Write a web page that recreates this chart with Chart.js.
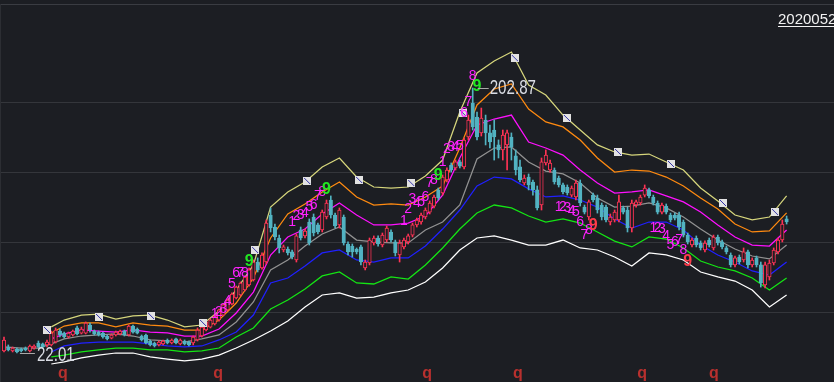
<!DOCTYPE html>
<html lang="zh-CN">
<head>
<meta charset="UTF-8">
<title>K线</title>
<script src="https://cdn.jsdelivr.net/npm/chart.js"></script>
<style>
    body { margin: 0; background: #1c1e23; overflow: hidden; }
    canvas { display: block; }
</style>
</head>
<body>
<canvas id="kline" width="834" height="382"></canvas>
<script>
// daily candles: [open, high, low, close]
const CANDLES = [
    [23.4,32.9,22.7,30.9],[26.1,27.5,23.4,24.1],[23.4,26.1,22.7,25.4],[24.7,25.4,22.01,22.7],[24.7,25.4,22.7,23.4],
    [25.4,26.1,23.4,24.1],[23.4,27.5,22.7,26.8],[25.4,27.5,24.7,26.8],[28.8,30.2,25.4,26.1],[28.2,28.8,25.4,26.1],
    [27.5,30.9,26.1,29.5],[27.5,37.0,26.8,35.6],[29.5,39.1,28.8,37.7],[37.0,38.4,32.9,34.3],[35.6,36.3,32.2,32.9],
    [32.9,36.3,32.2,35.6],[34.3,37.7,33.6,37.0],[39.1,40.4,34.3,35.0],[35.6,39.7,35.0,38.4],[35.6,43.2,35.0,42.5],
    [41.1,42.5,36.3,37.7],[37.0,37.7,34.3,35.0],[36.3,37.0,33.6,34.3],[35.6,36.3,32.2,32.9],[33.6,34.3,30.9,31.6],
    [32.2,35.0,31.6,34.3],[34.3,37.0,33.6,36.3],[35.0,37.7,34.3,37.0],[37.0,37.7,33.6,34.3],[34.3,41.1,33.6,40.4],
    [40.4,41.1,35.6,36.3],[38.4,39.1,35.0,35.6],[33.6,34.3,30.2,30.9],[34.3,35.0,28.2,28.8],[30.2,30.9,26.8,27.5],
    [28.8,29.5,26.1,26.8],[27.5,30.2,26.8,29.5],[28.2,30.9,27.5,30.2],[30.9,31.6,28.2,28.8],[28.8,31.6,28.2,30.9],
    [31.6,32.2,28.2,28.8],[28.2,31.6,27.5,30.9],[30.2,30.9,27.5,28.2],[29.5,30.2,26.8,27.5],[28.8,33.6,27.5,32.9],
    [30.9,39.1,30.2,37.7],[33.6,40.4,32.9,39.7],[37.7,43.8,37.0,43.2],[39.7,45.2,39.1,44.5],[41.8,47.9,41.1,47.3],
    [44.5,52.0,43.8,51.4],[47.9,55.5,47.3,54.8],[51.4,58.9,50.7,58.2],[55.5,63.0,54.8,62.3],[59.6,67.7,58.9,67.0],
    [61.6,70.5,60.9,69.8],[65.0,74.6,64.3,73.9],[68.4,80.0,67.7,78.7],[71.8,85.5,71.1,84.1],[84.1,86.9,77.3,78.7],
    [80.0,90.3,79.3,88.9],[84.1,112.8,82.8,110.7],[116.2,121.0,104.6,107.3],[108.0,110.0,99.1,101.2],[100.5,102.5,90.3,93.7],
    [92.3,95.7,91.0,94.4],[93.0,94.4,88.9,90.3],[91.0,92.3,86.2,87.5],[85.5,103.2,84.1,101.9],[106.0,108.0,99.1,100.5],
    [101.9,106.6,100.5,105.3],[111.4,113.5,95.7,97.1],[114.8,116.9,101.9,103.9],[109.4,110.7,103.2,104.6],[106.0,119.6,104.6,118.2],
    [114.8,126.4,113.5,124.4],[126.4,129.2,114.1,116.2],[116.2,117.5,107.3,108.7],[109.4,121.0,107.3,119.6],[114.8,116.2,95.7,97.1],
    [96.4,97.8,88.9,91.0],[95.0,96.4,87.5,91.0],[93.0,93.7,89.6,91.0],[94.4,95.7,82.1,84.1],[80.0,85.5,78.7,84.1],
    [83.4,100.5,82.1,99.1],[97.1,101.9,95.7,100.5],[100.5,101.9,95.0,96.4],[95.7,103.9,94.4,102.5],[99.1,108.7,97.8,107.3],
    [104.6,106.0,97.8,99.1],[97.8,99.1,88.2,90.3],[88.9,99.1,84.1,97.1],[94.4,100.5,93.0,99.1],[97.8,103.2,96.4,101.9],
    [102.5,110.7,101.2,109.4],[109.4,114.1,108.0,112.8],[111.4,117.5,110.0,116.2],[114.8,121.0,113.5,119.6],[118.2,125.8,116.9,124.4],
    [122.3,129.8,121.0,128.5],[133.3,134.6,126.4,127.8],[131.2,143.5,129.8,142.1],[140.1,148.3,138.7,146.9],[150.3,151.7,145.5,146.9],
    [148.3,153.7,146.9,152.4],[152.4,153.7,148.3,149.6],[149.0,168.7,147.6,167.4],[169.4,184.4,167.4,181.0],[192.6,202.87,174.2,176.3],
    [183.1,186.5,167.4,169.4],[172.2,189.2,170.1,182.4],[181.0,184.4,164.0,172.2],[172.2,177.6,161.9,166.0],[174.2,181.0,153.7,169.4],
    [164.0,167.4,155.1,160.6],[160.6,174.2,153.7,170.8],[164.0,174.2,146.9,172.2],[169.4,172.2,153.7,162.6],[156.5,160.6,143.5,146.9],
    [149.0,153.7,138.7,140.1],[138.0,143.5,136.7,141.4],[142.1,144.2,133.3,136.7],[138.7,140.1,129.8,133.3],[133.3,136.0,119.6,121.0],
    [123.0,155.1,119.6,152.4],[151.7,160.6,150.3,157.1],[146.9,153.7,145.5,151.7],[146.9,148.3,137.3,138.7],[141.4,142.8,135.3,136.7],
    [136.7,138.0,130.5,131.9],[135.3,136.7,129.8,131.2],[129.8,136.0,128.5,134.6],[128.5,140.1,126.4,138.0],[138.0,140.1,122.3,124.4],
    [121.6,123.0,116.9,118.2],[114.8,126.4,112.8,125.1],[129.8,131.2,125.1,126.4],[127.8,129.8,117.5,119.6],[123.0,124.4,112.8,114.8],
    [121.6,123.0,111.4,112.8],[111.4,116.9,109.4,114.8],[112.8,119.6,111.4,118.2],[112.8,129.8,111.4,125.1],[121.0,122.3,116.9,118.2],
    [119.6,121.6,104.6,107.3],[107.3,126.4,104.6,124.4],[123.0,126.4,121.6,125.1],[124.4,129.8,123.0,128.5],[129.8,136.7,128.5,134.6],
    [133.3,134.6,127.8,129.2],[128.5,129.8,123.0,124.4],[124.4,125.8,116.9,118.2],[118.2,124.4,116.9,123.0],[122.3,123.7,116.9,118.2],
    [116.2,117.5,111.4,112.8],[116.2,117.5,112.8,114.1],[116.2,118.2,106.0,108.0],[111.4,112.8,101.2,102.5],[102.5,103.9,96.4,97.8],
    [95.7,100.5,94.4,99.1],[100.5,101.9,94.4,95.7],[97.1,98.5,92.3,93.7],[92.3,98.5,91.0,97.1],[99.1,100.5,94.4,95.7],
    [93.7,102.5,92.3,101.2],[101.2,102.5,95.7,97.1],[97.8,99.1,93.0,94.4],[93.7,95.0,89.6,91.0],[88.9,90.3,80.7,82.1],
    [82.1,88.2,80.7,86.9],[87.5,88.9,82.8,84.1],[85.5,93.7,84.1,91.0],[91.0,92.3,80.0,82.1],[82.1,86.9,80.7,85.5],
    [86.9,88.2,80.7,82.1],[82.1,84.1,67.0,69.8],[68.4,84.1,66.4,82.1],[73.9,85.5,71.8,83.4],[83.4,93.7,82.1,92.3],
    [91.0,100.5,89.6,99.1],[99.1,112.8,97.8,110.0],[113.5,115.5,110.0,111.4]
];

// band lines are sampled on these candle indexes
const BAND_IDX = [11,14,18,22,26,30,34,38,42,46,50,54,58,62,66,70,74,78,82,86,90,94,98,102,106,110,114,118,122,126,130,134,138,142,146,150,154,158,162,166,170,174,178,182];
const YELLOW  = [39.8,44.5,47.9,48.6,45.2,47.3,47.9,44.5,39.8,41.1,50.7,65.0,82.1,121.6,131.9,138.7,149.0,155.1,142.1,135.3,134.6,135.3,142.8,153.7,186.5,213.1,221.3,227.4,204.9,198.1,184.4,174.2,164.0,159.2,157.1,157.8,152.4,146.9,134.6,125.8,116.2,112.8,114.8,129.2];
const ORANGE  = [35.7,40.4,42.5,42.5,39.8,42.5,41.1,40.4,37.7,37.7,44.5,56.1,73.2,100.5,116.9,123.7,131.9,138.7,128.5,123.0,123.7,123.0,128.5,136.0,161.9,191.3,202.2,205.6,188.5,179.7,176.3,167.4,155.1,145.5,146.9,146.2,142.1,136.0,127.8,120.3,110.0,104.6,105.3,117.6];
const MAGENTA = [31.6,35.0,37.7,37.0,36.3,37.7,36.3,35.7,33.6,33.6,38.4,49.3,63.6,88.9,101.2,106.6,116.9,124.4,116.2,109.4,109.4,110.7,115.5,129.8,155.1,177.6,181.7,184.4,166.0,161.9,157.1,146.9,138.0,131.2,131.9,133.3,129.2,125.1,118.2,109.4,101.2,95.7,95.0,106.0];
const BLUE    = [22.7,26.8,28.8,29.5,29.5,29.5,28.2,26.8,26.1,26.8,30.9,36.3,47.9,69.8,73.2,81.4,90.3,92.3,85.5,84.1,86.9,86.9,95.0,106.6,119.6,136.0,142.1,140.8,134.0,128.5,129.2,126.4,121.6,113.5,107.3,111.4,111.4,106.0,95.7,88.9,84.1,78.0,75.2,84.1];
const GREEN   = [19.3,20.6,22.7,24.1,25.4,25.4,24.1,24.1,22.7,23.4,25.4,32.9,39.1,52.0,58.2,65.7,74.6,77.3,69.8,69.1,73.9,72.5,82.1,93.7,106.6,117.6,123.0,121.0,115.5,111.4,113.5,110.7,104.6,98.4,94.4,101.2,99.8,93.7,84.8,80.7,78.0,73.2,65.0,73.2];
const WHITE   = [14.5,15.9,18.6,20.6,22.0,22.0,19.3,17.9,16.6,17.9,20.6,25.4,30.9,37.0,43.8,53.4,61.6,63.0,59.5,60.2,63.0,65.0,70.5,80.0,92.3,100.5,101.9,99.1,95.7,95.7,99.1,93.7,92.3,87.5,81.4,90.3,88.9,85.5,77.3,73.9,71.1,65.0,53.4,61.6];

// the middle average starts with the first candle
const GRAY_IDX = [0,4,8,11,14,18,22,26,30,34,38,42,46,50,54,58,62,66,70,74,78,82,86,90,94,98,102,106,110,114,118,122,126,130,134,138,142,146,150,154,158,162,166,170,174,178,182];
const GRAY = [26.1,25.4,25.4,28.2,31.6,33.6,34.3,35.0,33.6,30.9,30.2,29.5,31.6,34.3,43.2,56.8,78.7,85.5,95.0,103.2,108.0,99.1,97.8,97.1,97.1,106.0,111.4,123.0,154.4,161.9,162.6,152.4,146.2,144.2,138.0,127.8,121.6,122.3,124.4,121.0,114.8,106.6,99.1,93.0,88.2,86.2,95.7];

// square markers sitting on the top band
const MARK_IDX = [10.0,22.1,34.2,46.3,58.4,70.5,82.6,94.7,106.7,118.8,130.9,142.8,155.1,167.2,179.3];
const MARK_PRICE = [37.7,46.6,47.3,42.5,92.3,139.4,140.1,138.0,185.8,223.3,182.4,159.2,151.0,124.4,118.2];

// nine-count sequences: first candle index, price of each digit, direction
const TD_START = [49, 67, 93, 102, 129, 151];
const TD_DIR = ['up', 'up', 'up', 'up', 'down', 'down'];
const TD_PRICE = [
    [48.6, 50.0, 52.0, 57.5, 69.1, 76.6, 76.6, 76.6, 84.1],
    [111.4, 115.5, 116.2, 117.6, 121.6, 123.0, 129.2, 131.9, 133.3],
    [112.1, 120.3, 127.1, 124.4, 125.1, 128.5, 138.0, 140.1, 142.8],
    [152.4, 161.2, 162.6, 162.6, 163.3, 185.8, 193.3, 211.1, 203.5],
    [121.6, 121.6, 121.0, 118.9, 118.2, 111.4, 102.5, 106.0, 108.7],
    [107.3, 107.3, 106.6, 101.9, 95.7, 97.8, 99.1, 92.3, 84.1]
];

// "q" marks along the bottom
const Q_IDX = [13.7, 49.8, 98.4, 119.5, 148.4, 165.1];
const Q_PRICE = 5.0;

const GRID_PRICES = [260.2, 193.3, 145.5, 97.8, 50.0];
const DATE_LABEL = '20200522';

const BG = '#1c1e23';
const UP = '#ff3355';
const DOWN = '#52b3c2';

function markIcon() {
    const c = document.createElement('canvas');
    c.width = 8; c.height = 8;
    const g = c.getContext('2d');
    g.fillStyle = '#e2e2e2';
    g.fillRect(0, 0, 8, 8);
    g.strokeStyle = '#3434a8';
    g.lineWidth = 1;
    g.beginPath();
    g.moveTo(1, 1);
    g.lineTo(7, 7);
    g.stroke();
    return c;
}

function band(idx, values, color) {
    return {
        type: 'line',
        data: idx.map((x, k) => ({ x: x, y: values[k] })),
        borderColor: color,
        borderWidth: 1.25,
        pointRadius: 0,
        tension: 0,
        fill: false,
        order: 5
    };
}

function narrowText(ctx, text, x, y, size, color) {
    ctx.save();
    ctx.translate(x, y);
    ctx.scale(0.72, 1);
    ctx.font = size + 'px "Liberation Sans", Arial, sans-serif';
    ctx.fillStyle = color;
    ctx.textAlign = 'left';
    ctx.textBaseline = 'middle';
    ctx.fillText(text, 0, 0);
    ctx.restore();
}

const isUp = CANDLES.map(c => c[3] >= c[0]);

const backgroundPlugin = {
    id: 'bg',
    beforeDraw(chart) {
        const ctx = chart.ctx;
        ctx.save();
        ctx.fillStyle = BG;
        ctx.fillRect(0, 0, chart.width, chart.height);
        ctx.restore();
    }
};

const gridPlugin = {
    id: 'grid',
    beforeDatasetsDraw(chart) {
        const ctx = chart.ctx;
        const y = chart.scales.y;
        ctx.save();
        ctx.lineWidth = 1;
        GRID_PRICES.forEach((p, k) => {
            const py = Math.round(y.getPixelForValue(p)) + 0.5;
            ctx.strokeStyle = k === 0 ? '#3a3c42' : '#34363b';
            ctx.beginPath();
            ctx.moveTo(0, py);
            ctx.lineTo(chart.width, py);
            ctx.stroke();
        });
        ctx.strokeStyle = '#2c2e33';
        ctx.beginPath();
        ctx.moveTo(0.5, Math.round(y.getPixelForValue(GRID_PRICES[0])));
        ctx.lineTo(0.5, chart.height);
        ctx.stroke();
        ctx.restore();
    }
};

const labelPlugin = {
    id: 'labels',
    afterDatasetsDraw(chart) {
        const ctx = chart.ctx;
        const xs = chart.scales.x, ys = chart.scales.y;
        ctx.save();

        // nine-count digits
        ctx.textAlign = 'center';
        ctx.textBaseline = 'middle';
        TD_START.forEach((start, s) => {
            TD_PRICE[s].forEach((p, k) => {
                const px = xs.getPixelForValue(start + k);
                const py = ys.getPixelForValue(p);
                if (k === 8) {
                    ctx.font = 'bold 16px "Liberation Sans", Arial, sans-serif';
                    ctx.fillStyle = TD_DIR[s] === 'up' ? '#22e622' : '#ff3b4a';
                } else {
                    ctx.font = '14px "Liberation Sans", Arial, sans-serif';
                    ctx.fillStyle = '#ff22ff';
                }
                ctx.fillText(String(k + 1), px, py);
            });
        });

        // q marks
        ctx.font = 'bold 16px "Liberation Sans", Arial, sans-serif';
        ctx.fillStyle = '#b8302e';
        ctx.textBaseline = 'alphabetic';
        Q_IDX.forEach(i => {
            ctx.fillText('q', xs.getPixelForValue(i), ys.getPixelForValue(Q_PRICE));
        });

        // highest and lowest price labels
        let hi = 0, lo = 0;
        CANDLES.forEach((c, i) => {
            if (c[1] > CANDLES[hi][1]) hi = i;
            if (c[2] < CANDLES[lo][2]) lo = i;
        });
        ctx.strokeStyle = '#a8a8a8';
        ctx.lineWidth = 1;
        const hx = xs.getPixelForValue(hi), hy = Math.round(ys.getPixelForValue(CANDLES[hi][1])) + 0.5;
        ctx.beginPath(); ctx.moveTo(hx + 5, hy); ctx.lineTo(hx + 16, hy); ctx.stroke();
        narrowText(ctx, CANDLES[hi][1].toFixed(2), hx + 17, hy, 21, '#dadde4');
        const lx = xs.getPixelForValue(lo), ly = Math.round(ys.getPixelForValue(CANDLES[lo][2])) + 0.5;
        ctx.beginPath(); ctx.moveTo(lx + 3, ly); ctx.lineTo(lx + 18, ly); ctx.stroke();
        narrowText(ctx, CANDLES[lo][2].toFixed(2), lx + 20, ly + 2, 21, '#dadde4');

        // date at top right
        ctx.font = '15px "Liberation Sans", Arial, sans-serif';
        ctx.fillStyle = '#f2f2f2';
        ctx.textAlign = 'left';
        ctx.textBaseline = 'alphabetic';
        ctx.fillText(DATE_LABEL, 778, 24);
        ctx.fillRect(778, 26, chart.width - 778, 1);

        ctx.restore();
    }
};

new Chart(document.getElementById('kline'), {
    type: 'bar',
    data: {
        datasets: [
            band(BAND_IDX, YELLOW, '#d6d67c'),
            band(BAND_IDX, ORANGE, '#ff8a10'),
            band(BAND_IDX, MAGENTA, '#ff10ff'),
            band(GRAY_IDX, GRAY, '#929292'),
            band(BAND_IDX, BLUE, '#2020ff'),
            band(BAND_IDX, GREEN, '#14e614'),
            band(BAND_IDX, WHITE, '#ffffff'),
            {
                // wicks
                data: CANDLES.map((c, i) => ({ x: i, y: [c[2], c[1]] })),
                backgroundColor: isUp.map(u => u ? UP : DOWN),
                barThickness: 1,
                grouped: false,
                order: 3
            },
            {
                // bodies, rising ones hollow
                data: CANDLES.map((c, i) => ({ x: i, y: [c[0], c[3]] })),
                backgroundColor: isUp.map(u => u ? BG : DOWN),
                borderColor: isUp.map(u => u ? UP : DOWN),
                borderWidth: 1,
                borderSkipped: false,
                minBarLength: 1,
                barThickness: 3.5,
                grouped: false,
                order: 2
            },
            {
                type: 'scatter',
                data: MARK_IDX.map((x, k) => ({ x: x, y: MARK_PRICE[k] })),
                pointStyle: markIcon(),
                pointRadius: 4,
                order: 1
            }
        ]
    },
    options: {
        responsive: false,
        animation: false,
        devicePixelRatio: 1,
        events: [],
        layout: { padding: 0, autoPadding: false },
        plugins: { legend: { display: false }, tooltip: { enabled: false } },
        scales: {
            x: { type: 'linear', min: -0.93, max: 193.02, offset: false, display: false },
            y: { type: 'linear', min: 2.21, max: 262.93, display: false }
        }
    },
    plugins: [backgroundPlugin, gridPlugin, labelPlugin]
});
</script>
</body>
</html>
